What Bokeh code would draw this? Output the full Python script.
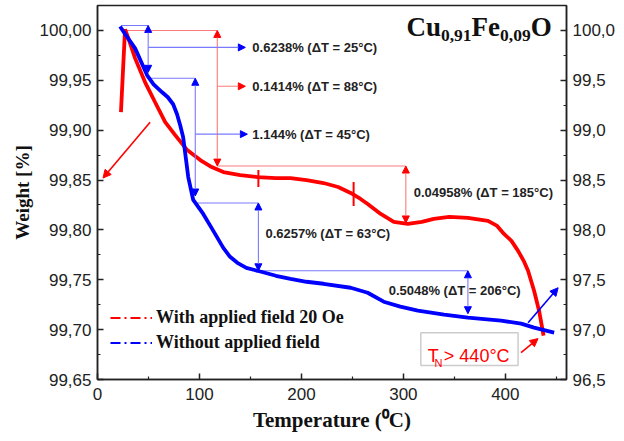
from bokeh.plotting import figure
from bokeh.models import (Range1d, LinearAxis, FixedTicker, Arrow, NormalHead,
                          Label, Legend, LegendItem, BoxAnnotation)
from bokeh.embed import file_html
from bokeh.resources import INLINE
from bokeh.core.properties import value

# ---- TGA curves: temperature (°C) vs. weight (%) ----
t_field = [23.0, 27.0, 31.0, 36.9, 46.7, 56.5, 66.4, 76.2, 88.0, 100.8, 112.0,
           123.4, 140.0, 156.9, 175.0, 189.3, 205.0, 221.7, 236.0, 248.3, 258.0,
           265.0, 277.8, 290.6, 304.3, 318.0, 329.8, 345.0, 363.3, 383.0, 392.0,
           398.7, 406.0, 412.5, 418.0, 422.3, 428.2, 433.1, 437.5]
w_field = [99.918, 100.001, 99.990, 99.972, 99.948, 99.928, 99.908, 99.895,
           99.880, 99.870, 99.863, 99.858, 99.855, 99.853, 99.852, 99.852,
           99.850, 99.847, 99.843, 99.837, 99.831, 99.826, 99.816, 99.808,
           99.806, 99.808, 99.811, 99.813, 99.812, 99.809, 99.804, 99.796,
           99.789, 99.779, 99.769, 99.759, 99.739, 99.719, 99.694]

t_nofield = [22.1, 28.0, 36.9, 48.7, 55.0, 63.4, 69.0, 74.2, 78.0, 81.1, 84.0,
             86.0, 89.0, 93.9, 103.7, 113.6, 123.4, 130.0, 137.2, 146.0, 156.9,
             175.0, 189.3, 205.0, 221.7, 248.3, 265.0, 280.7, 297.0, 314.2,
             340.0, 363.3, 395.8, 415.5, 428.2, 447.9]
w_nofield = [100.004, 99.995, 99.982, 99.955, 99.946, 99.938, 99.933, 99.926,
             99.916, 99.905, 99.893, 99.877, 99.853, 99.830, 99.816, 99.799,
             99.782, 99.773, 99.767, 99.762, 99.759, 99.754, 99.751, 99.748,
             99.746, 99.742, 99.737, 99.728, 99.723, 99.719, 99.715, 99.712,
             99.709, 99.706, 99.702, 99.697]

series_names = ["With applied field 20 Oe", "Without applied field"]

# ---- axis ticks ----
x_ticks = [0, 100, 200, 300, 400]
x_tick_labels = ["0", "100", "200", "300", "400"]
x_minor = [50, 150, 250, 350, 450]
y_ticks = [99.65, 99.70, 99.75, 99.80, 99.85, 99.90, 99.95, 100.00]
y_tick_labels = ["99,65", "99,70", "99,75", "99,80", "99,85", "99,90", "99,95", "100,00"]
y_minor = [99.675, 99.725, 99.775, 99.825, 99.875, 99.925, 99.975, 100.025]
y2_ticks = [96.5, 97.0, 97.5, 98.0, 98.5, 99.0, 99.5, 100.0]
y2_tick_labels = ["96,5", "97,0", "97,5", "98,0", "98,5", "99,0", "99,5", "100,0"]
y2_minor = [96.75, 97.25, 97.75, 98.25, 98.75, 99.25, 99.75, 100.25]

# ---- mass-loss brackets ----
blue_brk_x = [49.7, 95.9, 157.8, 363.3]
blue_brk_top = [100.005, 99.952, 99.827, 99.759]
blue_brk_bot = [99.958, 99.834, 99.759, 99.716]
blue_lead_x0 = [23.1, 51.6, 97.8, 157.8]
red_brk_x = [117.5, 302.4]
red_brk_top = [100.000, 99.864]
red_brk_bot = [99.864, 99.807]
red_lead_x0 = [28.0, 117.5]

blue_ptr_x0 = [49.7, 95.9]
blue_ptr_x1 = [145.0, 147.0]
blue_ptr_y = [99.983, 99.896]
red_ptr_x0 = [117.5]
red_ptr_x1 = [145.0]
red_ptr_y = [99.944]

blue_txt = ["0.6238% (\u0394T = 25°C)", "1.144% (\u0394T = 45°C)",
            "0.6257% (\u0394T = 63°C)", "0.5048% (\u0394T = 206°C)"]
blue_txt_x = [151.9, 151.9, 164.7, 285.6]
blue_txt_y = [99.983, 99.896, 99.796, 99.739]
red_txt = ["0.1414% (\u0394T = 88°C)", "0.04958% (\u0394T = 185°C)"]
red_txt_x = [151.9, 310.2]
red_txt_y = [99.944, 99.838]

# short markers on the field curve
red_mark_x = [157.8, 251.2]
red_mark_y0 = [99.860, 99.848]
red_mark_y1 = [99.843, 99.824]

# pointer arrows: (x0, y0, x1, y1)
red_arrows = [(51.6, 99.908, 5.4, 99.852), (415.4, 99.677, 432.1, 99.691)]
blue_arrows = [(422.3, 99.707, 451.8, 99.742)]

# Néel temperature box
tn_box = (317.1, 412.5, 99.664, 99.697)

RED = "#ff0000"
BLUE = "#0000ff"
RED_LT = "#ff7a7a"
BLUE_LT = "#7a7aff"
SANS = "Liberation Sans"
SERIF = "Liberation Serif"

p = figure(width=624, height=441, output_backend="svg", toolbar_location=None,
           x_range=Range1d(0, 460), y_range=Range1d(99.65, 100.025),
           min_border_left=97, min_border_right=58, min_border_top=5,
           min_border_bottom=62)
p.grid.visible = False
p.outline_line_color = "#222222"
p.outline_line_width = 1.5
p.background_fill_color = "white"
p.border_fill_color = "white"

p.extra_y_ranges = {"right": Range1d(96.5, 100.25)}
right_axis = LinearAxis(y_range_name="right")
p.add_layout(right_axis, "right")


def style_axis(ax, ticks, minor, labels):
    ax.ticker = FixedTicker(ticks=ticks, minor_ticks=minor)
    ax.major_label_overrides = {t: l for t, l in zip(ticks, labels)}
    ax.major_tick_in = 6
    ax.major_tick_out = 0
    ax.minor_tick_in = 3
    ax.minor_tick_out = 0
    ax.axis_line_width = 1.5
    ax.axis_line_color = "#222222"
    ax.major_tick_line_color = "#222222"
    ax.minor_tick_line_color = "#222222"
    ax.major_tick_line_width = 1.5
    ax.minor_tick_line_width = 1.2
    ax.major_label_text_font = SANS
    ax.major_label_text_font_size = "17px"
    ax.major_label_text_color = "#222222"
    ax.major_label_standoff = 6


style_axis(p.xaxis[0], x_ticks, x_minor, x_tick_labels)
style_axis(p.yaxis[0], y_ticks, y_minor, y_tick_labels)
style_axis(right_axis, y2_ticks, y2_minor, y2_tick_labels)
p.xaxis.major_label_standoff = 8

p.xaxis.axis_label = "Temperature (\u2070C)"
p.yaxis[0].axis_label = "Weight [%]"
for ax, fs in ((p.xaxis[0], "21px"), (p.yaxis[0], "19px")):
    ax.axis_label_text_font = SERIF
    ax.axis_label_text_font_style = "bold"
    ax.axis_label_text_font_size = fs
    ax.axis_label_text_color = "#111111"
p.xaxis.axis_label_standoff = 5
p.yaxis[0].axis_label_standoff = 4

# ---- bracket lines ----
p.segment(x0=blue_lead_x0, y0=blue_brk_top, x1=blue_brk_x, y1=blue_brk_top,
          line_color=BLUE_LT, line_width=1.1)
p.segment(x0=red_lead_x0, y0=red_brk_top, x1=red_brk_x, y1=red_brk_top,
          line_color=RED_LT, line_width=1.1)
p.segment(x0=red_mark_x, y0=red_mark_y0, x1=red_mark_x, y1=red_mark_y1,
          line_color=RED, line_width=2)

# ---- curves ----
r_field = p.line(t_field, w_field, line_color=RED, line_width=3.8)
r_nofield = p.line(t_nofield, w_nofield, line_color=BLUE, line_width=3.8)

# double-headed vertical brackets
for xs, top, bot, lc, hc in ((blue_brk_x, blue_brk_top, blue_brk_bot, BLUE_LT, BLUE),
                             (red_brk_x, red_brk_top, red_brk_bot, RED_LT, RED)):
    for x, yt, yb in zip(xs, top, bot):
        p.add_layout(Arrow(x_start=x, y_start=yb, x_end=x, y_end=yt,
                           line_color=lc, line_width=1.1,
                           start=NormalHead(size=7, fill_color=hc, line_color=hc),
                           end=NormalHead(size=7, fill_color=hc, line_color=hc)))

# leaders pointing at the labels
for x0s, x1s, ys, lc, hc in ((blue_ptr_x0, blue_ptr_x1, blue_ptr_y, BLUE_LT, BLUE),
                             (red_ptr_x0, red_ptr_x1, red_ptr_y, RED_LT, RED)):
    for x0, x1, y in zip(x0s, x1s, ys):
        p.add_layout(Arrow(x_start=x0, y_start=y, x_end=x1, y_end=y,
                           line_color=lc, line_width=1.1,
                           end=NormalHead(size=7, fill_color=hc, line_color=hc)))

for arrows, col in ((red_arrows, RED), (blue_arrows, BLUE)):
    for x0, y0, x1, y1 in arrows:
        p.add_layout(Arrow(x_start=x0, y_start=y0, x_end=x1, y_end=y1,
                           line_color=col, line_width=1.6,
                           end=NormalHead(size=8, fill_color=col, line_color=col)))

# bracket labels
for txt, xs, ys in ((blue_txt, blue_txt_x, blue_txt_y), (red_txt, red_txt_x, red_txt_y)):
    p.text(x=xs, y=ys, text=txt, text_font=value(SANS), text_font_style="bold",
           text_font_size="13px", text_color="#222222", text_baseline="middle",
           text_align="left")

# Néel temperature note
p.add_layout(BoxAnnotation(left=tn_box[0], right=tn_box[1], bottom=tn_box[2],
                           top=tn_box[3], fill_color="white", fill_alpha=1.0,
                           line_color="#555555", line_width=1.5))
p.add_layout(Label(x=324.0, y=99.674, text="T", text_font=SANS,
                   text_font_size="18px", text_color=RED, text_baseline="alphabetic"))
p.add_layout(Label(x=330.5, y=99.667, text="N", text_font=SANS,
                   text_font_size="11px", text_color=RED, text_baseline="alphabetic"))
p.add_layout(Label(x=339.7, y=99.674, text="> 440°C", text_font=SANS,
                   text_font_size="18px", text_color=RED, text_baseline="alphabetic"))

# compound formula with subscripts
formula = [("Cu", False), ("0,91", True), ("Fe", False), ("0,09", True), ("O", False)]
big, small = 27, 17.5
em = {"C": 0.722, "u": 0.556, "F": 0.611, "e": 0.444, "O": 0.778,
      "0": 0.5, "9": 0.5, "1": 0.5, ",": 0.25}
off = 0.0
for txt, sub in formula:
    size = small if sub else big
    p.add_layout(Label(x=303.0, y=99.995 if sub else 100.003, x_offset=off,
                       text=txt, text_font=SERIF, text_font_style="bold",
                       text_font_size=f"{size}px", text_color="#111111",
                       text_baseline="alphabetic"))
    off += sum(em[c] for c in txt) * size

# legend (dash-dot samples); the sample renderers hold no visible points
nan = float("nan")
lg_field = p.line(x=[nan], y=[nan], line_color=RED, line_width=2, line_dash="10 4 2 4")
lg_nofield = p.line(x=[nan], y=[nan], line_color=BLUE, line_width=2, line_dash="10 4 2 4")
legend = Legend(items=[LegendItem(label=series_names[0], renderers=[lg_field]),
                       LegendItem(label=series_names[1], renderers=[lg_nofield])],
                location=(13, 26), glyph_width=42, glyph_height=21, label_height=21,
                spacing=4, padding=0, margin=0, label_standoff=4,
                border_line_color=None, background_fill_alpha=0,
                label_text_font=SERIF, label_text_font_style="bold",
                label_text_font_size="18px", label_text_color="#111111")
p.add_layout(legend, "center")

open("out.html", "w").write(file_html(p, INLINE))
